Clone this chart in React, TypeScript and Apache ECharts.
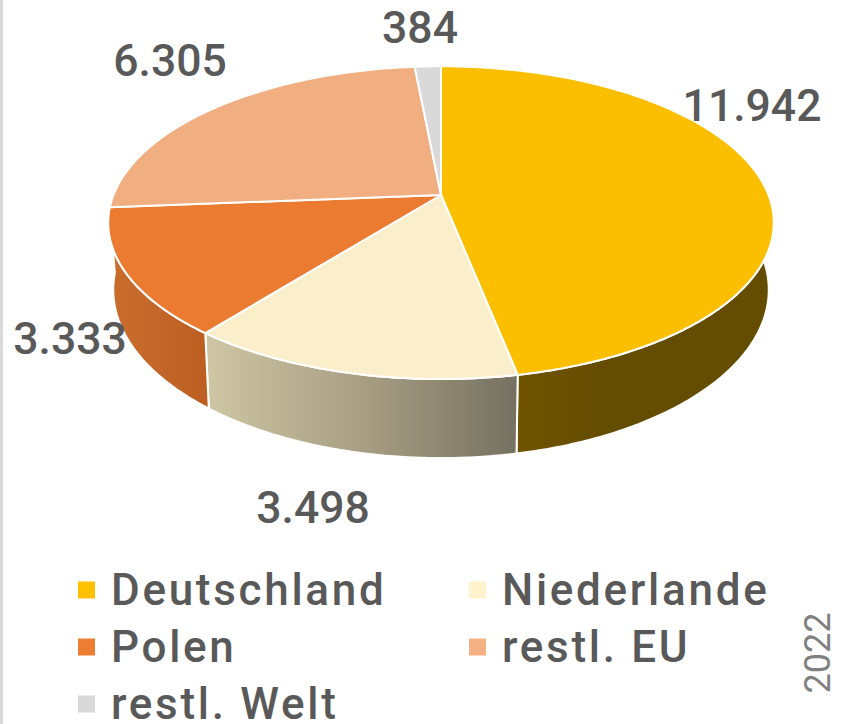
import React, { useEffect, useRef } from "react";
import * as echarts from "echarts";

const categories = ["Deutschland", "Niederlande", "Polen", "restl. EU", "restl. Welt"];
const values = [11942, 3498, 3333, 6305, 384];
const valueLabels = ["11.942", "3.498", "3.333", "6.305", "384"];
const legendColors = ["#FFC000", "#FFF2CC", "#ED7D31", "#F4B183", "#D9D9D9"];
const topColors = ["#FBBF00", "#FBEFCB", "#EB7B30", "#F1AE80", "#D9D9D9"];
const wallColors = [
  ["#7A5B00", "#644C00", "#644C00"],
  ["#CFC6A5", "#A89E83", "#757161"],
  ["#C96E2C", "#C4662A", "#BB5E20"],
  null,
  null,
];
const labelAnchors = [
  [752, 106],
  [313, 508],
  [70, 339],
  [170, 61],
  [420, 28],
];

const FONT = "Roboto";
const TEXT = "#595959";
const CX = 441;
const CY = 195;
const RX = 327.5;
const RY = 151.5;
const K = 0.177;
const DEPTH = 65;
const BOTTOM_SCALE = 0.985;
const total = values.reduce((a, b) => a + b, 0);

function top(theta: number): number[] {
  const u = Math.sin(theta);
  const v = -Math.cos(theta);
  const d = 1 - K * v;
  return [CX + (RX * u) / d, CY + (RY * v) / d];
}
function bottom(theta: number): number[] {
  const v = -Math.cos(theta);
  const d = 1 - K * v;
  const p = top(theta);
  return [CX + (p[0] - CX) * BOTTOM_SCALE, p[1] + DEPTH / d];
}
function arc(a: number, b: number, f: (t: number) => number[]): number[][] {
  const n = Math.max(2, Math.ceil(Math.abs(b - a) / 0.01));
  const out: number[][] = [];
  for (let i = 0; i <= n; i++) out.push(f(a + ((b - a) * i) / n));
  return out;
}

function sliceSeries(idx: number) {
  const before = values.slice(0, idx).reduce((a, b) => a + b, 0);
  const start = (before / total) * Math.PI * 2;
  const end = ((before + values[idx]) / total) * Math.PI * 2;
  return {
    type: "custom",
    name: categories[idx],
    coordinateSystem: "none",
    silent: true,
    itemStyle: { color: legendColors[idx] },
    data: [[values[idx]]],
    renderItem: () => {
      const children: any[] = [];
      const stops = wallColors[idx];
      if (stops) {
        const pts = arc(start, end, top).concat(arc(end, start, bottom));
        children.push({
          type: "polygon",
          z2: 1,
          shape: { points: pts },
          style: {
            fill: new echarts.graphic.LinearGradient(0, 0, 1, 0, [
              { offset: 0, color: stops[0] },
              { offset: 0.5, color: stops[1] },
              { offset: 1, color: stops[2] },
            ]),
            stroke: "#FFFFFF",
            lineWidth: 2,
          },
        });
      }
      children.push({
        type: "polygon",
        z2: 2,
        shape: { points: [[CX, CY]].concat(arc(start, end, top)) },
        style: { fill: topColors[idx], stroke: "#FFFFFF", lineWidth: 2, lineJoin: "round" },
      });
      children.push({
        type: "text",
        z2: 5,
        x: labelAnchors[idx][0],
        y: labelAnchors[idx][1],
        style: {
          text: valueLabels[idx],
          fontFamily: FONT,
          fontSize: 44.5,
          fontWeight: 500,
          fill: TEXT,
          align: "center",
          verticalAlign: "middle",
        },
      });
      return { type: "group", children };
    },
  };
}

const legendText = {
  fontFamily: FONT,
  fontSize: 44,
  fontWeight: 500,
  color: TEXT,
  padding: [0, 0, 0, 11],
};
const legendBase = {
  orient: "vertical",
  top: 568,
  height: 300,
  padding: 0,
  itemWidth: 17,
  itemHeight: 17,
  itemGap: 13,
  icon: "rect",
  selectedMode: false,
  textStyle: legendText,
};

export default function App() {
  const ref = useRef<HTMLDivElement>(null);
  useEffect(() => {
    const chart = echarts.init(ref.current!, undefined, { renderer: "svg" });
    chart.setOption({
      animation: false,
      backgroundColor: "#FFFFFF",
      legend: [
        { ...legendBase, left: 78, data: [categories[0], categories[2], categories[4]] },
        { ...legendBase, left: 469, data: [categories[1], categories[3]] },
      ],
      graphic: [
        {
          type: "rect",
          shape: { x: 0, y: 0, width: 3, height: 724 },
          style: { fill: "#D9D9D9" },
        },
        {
          type: "text",
          x: 818,
          y: 653,
          rotation: Math.PI / 2,
          style: {
            text: "2022",
            fontFamily: FONT,
            fontSize: 36,
            fill: "#808080",
            align: "center",
            verticalAlign: "middle",
          },
        },
      ],
      series: categories.map((_, i) => sliceSeries(i)),
    });
    return () => chart.dispose();
  }, []);
  return (
    <>
      <style>{`text[style*="44px"]{letter-spacing:2.7px}`}</style>
      <div ref={ref} style={{ position: "absolute", left: 0, top: 0, width: 841, height: 724 }} />
    </>
  );
}
